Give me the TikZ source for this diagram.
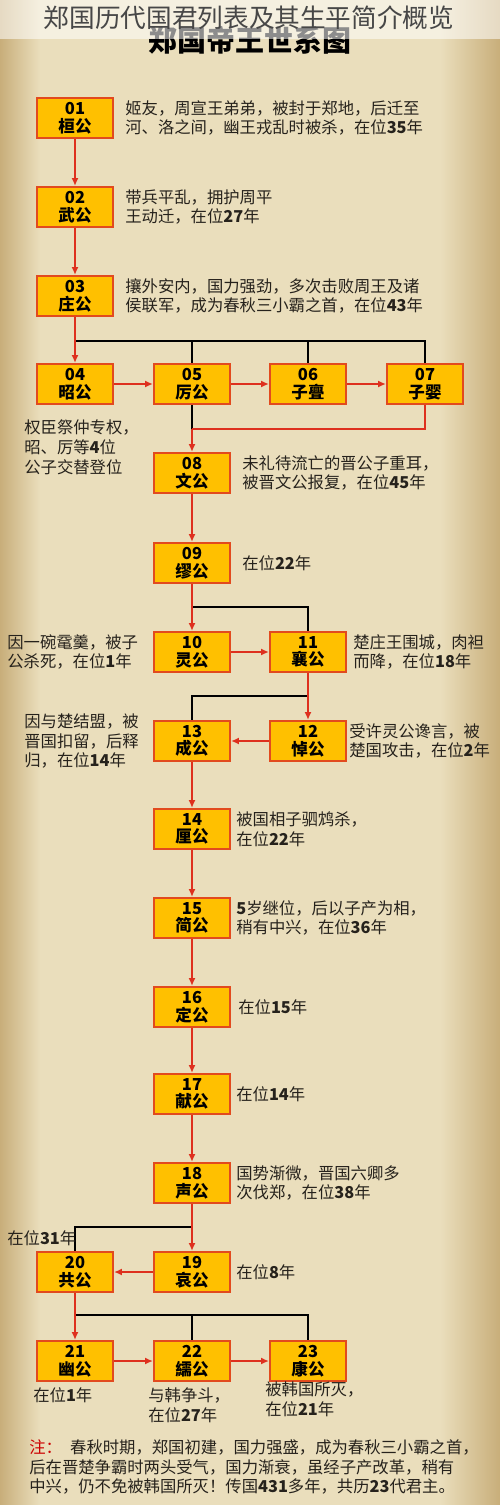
\documentclass[tikz,border=0pt]{standalone}
\usepackage{fontspec}
\newfontfamily\cjk{Noto Sans CJK SC}
\usetikzlibrary{arrows.meta}

\definecolor{lordfill}{RGB}{255,192,0}
\definecolor{lordedge}{RGB}{226,74,30}
\definecolor{linkred}{RGB}{222,48,30}
\definecolor{paper}{RGB}{234,222,188}
\definecolor{paperedge}{RGB}{200,174,122}
\definecolor{ink}{RGB}{38,34,28}

\tikzset{
  lord/.style={draw=lordedge, fill=lordfill, line width=1.2pt, minimum width=1.52cm,
    minimum height=0.8cm, inner sep=0pt, align=center,
    font=\cjk\bfseries\fontsize{9.4}{10}\selectfont},
  info/.style={anchor=west, align=left, inner sep=0pt, text=ink,
    font=\cjk\fontsize{9.3}{11.3}\selectfont},
  succ/.style={draw=linkred, line width=1pt, -{Latex[length=4.5pt,width=4pt]}},
  redline/.style={draw=linkred, line width=1pt},
  kin/.style={draw=black, line width=1pt}
}
\newcommand{\yr}[1]{\textbf{#1}}

\begin{document}
\begin{tikzpicture}[x=0.02cm, y=-0.02cm]

    % Paper background and page size
    \useasboundingbox (0,0) rectangle (500,1505);
    \fill[paper] (0,0) rectangle (500,1505);
    \shade[left color=paperedge, right color=paper] (0,0) rectangle (40,1505);
    \shade[left color=paper, right color=paperedge] (440,0) rectangle (500,1505);

    % Heading: bold title partly hidden under the light band
    \node[font=\cjk\bfseries\fontsize{16.5}{18}\selectfont] (banner) at (250,40) {郑国帝王世系图};
    \fill[white, opacity=0.55] (0,0) rectangle (500,39);
    \node[font=\cjk\fontsize{14.6}{16}\selectfont, text=black!72] (title) at (249,18) {郑国历代国君列表及其生平简介概览};

    % The rulers, one box each
    \node[lord] (k01) at (75,118) {01\\桓公};
    \node[lord] (k02) at (75,207) {02\\武公};
    \node[lord] (k03) at (75,296) {03\\庄公};
    \node[lord] (k04) at (75,384) {04\\昭公};
    \node[lord] (k05) at (192,384) {05\\厉公};
    \node[lord] (k06) at (308,384) {06\\子亹};
    \node[lord] (k07) at (425,384) {07\\子婴};
    \node[lord] (k08) at (192,473) {08\\文公};
    \node[lord] (k09) at (192,563) {09\\缪公};
    \node[lord] (k10) at (192,652) {10\\灵公};
    \node[lord] (k11) at (308,652) {11\\襄公};
    \node[lord] (k12) at (308,741) {12\\悼公};
    \node[lord] (k13) at (192,741) {13\\成公};
    \node[lord] (k14) at (192,829) {14\\厘公};
    \node[lord] (k15) at (192,918) {15\\简公};
    \node[lord] (k16) at (192,1007) {16\\定公};
    \node[lord] (k17) at (192,1094) {17\\献公};
    \node[lord] (k18) at (192,1183) {18\\声公};
    \node[lord] (k19) at (192,1272) {19\\哀公};
    \node[lord] (k20) at (75,1272) {20\\共公};
    \node[lord] (k21) at (75,1361) {21\\幽公};
    \node[lord] (k22) at (192,1361) {22\\繻公};
    \node[lord] (k23) at (308,1361) {23\\康公};

    % Junctions of the family lines
    \coordinate (j1) at (75,341);
    \coordinate (j2) at (192,429);
    \coordinate (j3) at (192,607);
    \coordinate (j4) at (308,696);
    \coordinate (j5) at (192,1227);
    \coordinate (j6) at (75,1315);

    % Family lines (black)
    \draw[kin] (j1) -| (k05);
    \draw[kin] (j1) -| (k06);
    \draw[kin] (j1) -| (k07);
    \draw[kin] (k05) -- (j2);
    \draw[kin] (j3) -| (k11);
    \draw[kin] (j4) -| (k13);
    \draw[kin] (j5) -| (k20);
    \draw[kin] (j6) -| (k22);
    \draw[kin] (j6) -| (k23);

    % Succession (red arrows)
    \draw[succ] (k01) -- (k02);
    \draw[succ] (k02) -- (k03);
    \draw[succ] (k03) -- (k04);
    \draw[succ] (k04) -- (k05);
    \draw[succ] (k05) -- (k06);
    \draw[succ] (k06) -- (k07);
    \draw[redline] (k07) |- (j2);
    \draw[succ] (j2) -- (k08);
    \draw[succ] (k08) -- (k09);
    \draw[succ] (k09) -- (k10);
    \draw[succ] (k10) -- (k11);
    \draw[succ] (k11) -- (k12);
    \draw[succ] (k12) -- (k13);
    \draw[succ] (k13) -- (k14);
    \draw[succ] (k14) -- (k15);
    \draw[succ] (k15) -- (k16);
    \draw[succ] (k16) -- (k17);
    \draw[succ] (k17) -- (k18);
    \draw[succ] (k18) -- (k19);
    \draw[succ] (k19) -- (k20);
    \draw[succ] (k20) -- (k21);
    \draw[succ] (k21) -- (k22);
    \draw[succ] (k22) -- (k23);

    % Notes on each reign
    \node[info] (t01) at (125,118) {姬友，周宣王弟弟，被封于郑地，后迁至\\河、洛之间，幽王戎乱时被杀，在位\yr{35}年};
    \node[info] (t02) at (125,207) {带兵平乱，拥护周平\\王动迁，在位\yr{27}年};
    \node[info] (t03) at (125,296) {攘外安内，国力强劲，多次击败周王及诸\\侯联军，成为春秋三小霸之首，在位\yr{43}年};
    \node[info] (t04) at (24,447) {权臣祭仲专权，\\昭、厉等\yr{4}位\\公子交替登位};
    \node[info] (t08) at (242,473) {未礼待流亡的晋公子重耳，\\被晋文公报复，在位\yr{45}年};
    \node[info] (t09) at (242,563) {在位\yr{22}年};
    \node[info] (t10) at (7,652) {因一碗鼋羹，被子\\公杀死，在位\yr{1}年};
    \node[info] (t11) at (353,652) {楚庄王围城，肉袒\\而降，在位\yr{18}年};
    \node[info] (t12) at (349,741) {受许灵公谗言，被\\楚国攻击，在位\yr{2}年};
    \node[info] (t13) at (24,741) {因与楚结盟，被\\晋国扣留，后释\\归，在位\yr{14}年};
    \node[info] (t14) at (236,829) {被国相子驷鸩杀，\\在位\yr{22}年};
    \node[info] (t15) at (236,918) {\yr{5}岁继位，后以子产为相，\\稍有中兴，在位\yr{36}年};
    \node[info] (t16) at (238,1007) {在位\yr{15}年};
    \node[info] (t17) at (236,1094) {在位\yr{14}年};
    \node[info] (t18) at (236,1183) {国势渐微，晋国六卿多\\次伐郑，在位\yr{38}年};
    \node[info] (t19) at (236,1272) {在位\yr{8}年};
    \node[info] (t20) at (7,1238) {在位\yr{31}年};
    \node[info] (t21) at (33,1395) {在位\yr{1}年};
    \node[info] (t22) at (148,1405) {与韩争斗，\\在位\yr{27}年};
    \node[info] (t23) at (265,1399) {被韩国所灭，\\在位\yr{21}年};

    % Closing remark
    \node[info] (remark) at (29,1467) {{\color{red!80!black}注：}\enspace 春秋时期，郑国初建，国力强盛，成为春秋三小霸之首，\\后在晋楚争霸时两头受气，国力渐衰，虽经子产改革，稍有\\中兴，仍不免被韩国所灭！传国\yr{431}多年，共历\yr{23}代君主。};

\end{tikzpicture}
\end{document}
